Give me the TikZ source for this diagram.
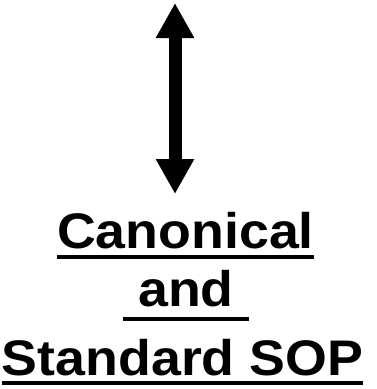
\documentclass[tikz,border=0pt]{standalone}
\usepackage{fontspec}
\newfontfamily\labelfont[FakeStretch=1.075]{Liberation Sans}
\usetikzlibrary{arrows.meta}

\tikzset{
  twoway/.style={line width=13pt,
    {Triangle[width=36pt,length=35pt]}-{Triangle[width=36pt,length=35pt]}},
  title/.style={anchor=base, inner sep=0pt,
    font=\labelfont\bfseries\fontsize{50}{60}\selectfont},
  uline/.style={line width=4pt},
}

\begin{document}
\begin{tikzpicture}[x=1pt,y=-1pt]
  \useasboundingbox (0,0) rectangle (376,389);

  % vertical two-way arrow
  \coordinate (up) at (175,3);
  \coordinate (down) at (175,194);
  \draw[twoway] (up) -- (down);

  % underlined title lines
  \node[title] (l1) at (185.5,248) {Canonical};
  \node[title] (l2) at (186,306) {\ and\ \null};
  \node[title] (l3) at (182.5,375) {Standard SOP};

  \draw[uline] ([yshift=-9pt]l1.base west) -- ([yshift=-9pt]l1.base east);
  \draw[uline] ([yshift=-13pt]l2.base west) -- ([yshift=-13pt]l2.base east);
  \draw[uline] ([yshift=-8pt]l3.base west) -- ([yshift=-8pt]l3.base east);
\end{tikzpicture}
\end{document}
